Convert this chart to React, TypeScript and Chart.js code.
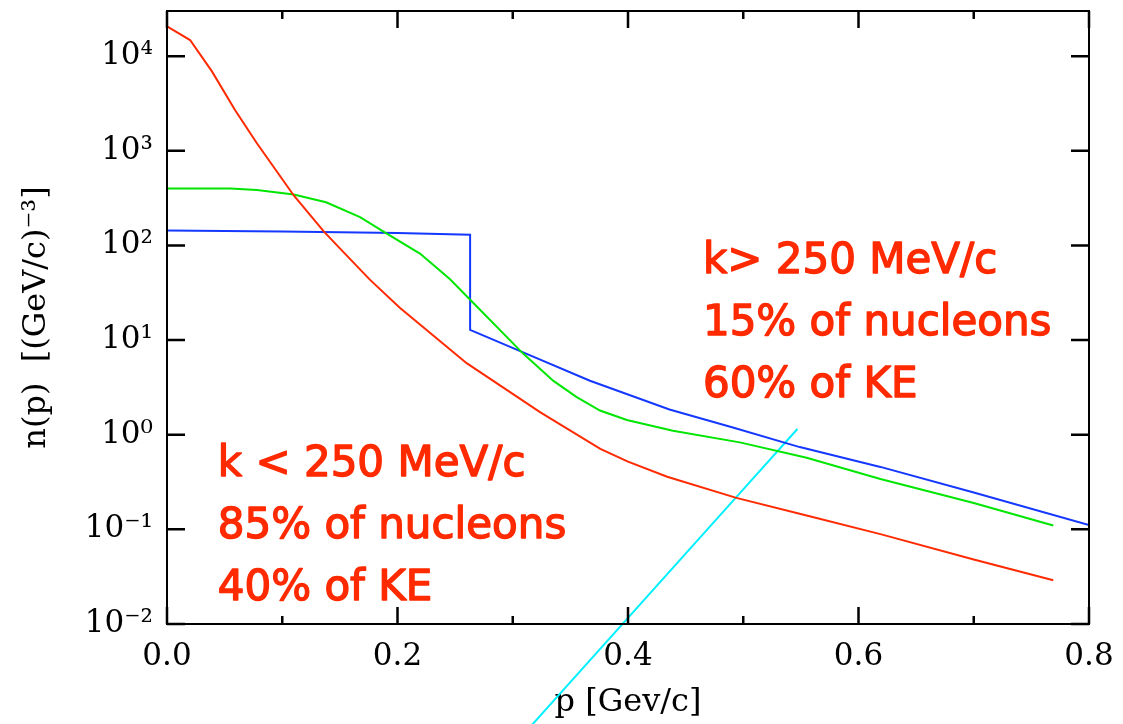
import React, { useEffect, useRef } from "react";
import { Chart, registerables } from "chart.js";

Chart.register(...registerables);

// Momentum distributions n(p) in (GeV/c)^-3 versus p in GeV/c
const RED_P = [0, 0.02, 0.039, 0.059, 0.078, 0.11, 0.136, 0.15, 0.176, 0.202, 0.26, 0.324, 0.376, 0.4, 0.434, 0.494, 0.555, 0.619, 0.7, 0.769];
const RED_N = [20700, 14800, 6900, 2700, 1200, 337, 141, 93, 43.5, 22, 5.7, 1.72, 0.71, 0.52, 0.36, 0.215, 0.14, 0.089, 0.048, 0.029];

const GREEN_P = [0, 0.055, 0.078, 0.11, 0.138, 0.1675, 0.19, 0.2195, 0.2456, 0.262, 0.309, 0.3353, 0.3555, 0.3757, 0.399, 0.439, 0.497, 0.555, 0.619, 0.7, 0.769];
const GREEN_N = [400, 400, 385, 346, 286, 199, 135, 82, 44, 27.5, 7.2, 3.7, 2.5, 1.8, 1.43, 1.1, 0.83, 0.57, 0.34, 0.19, 0.11];

// Step at the Fermi momentum: same p listed twice
const BLUE_P = [0, 0.1, 0.2, 0.263, 0.263, 0.309, 0.367, 0.436, 0.491, 0.549, 0.619, 0.7, 0.8];
const BLUE_N = [144, 140, 135, 130, 12.8, 7.4, 3.72, 1.85, 1.19, 0.74, 0.457, 0.245, 0.111];

const CYAN_P = [0.3, 0.4, 0.5, 0.547];
const CYAN_N = [0.00051, 0.0116, 0.265, 1.15];

const X_TICKS = [0, 0.1, 0.2, 0.3, 0.4, 0.5, 0.6, 0.7, 0.8];
const X_LABELED = [0, 0.2, 0.4, 0.6, 0.8];
const Y_TICKS = [0.01, 0.1, 1, 10, 100, 1000, 10000];

const NOTE_LOW = ["k < 250 MeV/c", "85% of nucleons", "40% of KE"];
const NOTE_HIGH = ["k> 250 MeV/c", "15% of nucleons", "60% of KE"];

const SUP: Record<string, string> = {
  "-": "\u207B", "0": "\u2070", "1": "\u00B9", "2": "\u00B2", "3": "\u00B3",
  "4": "\u2074", "5": "\u2075", "6": "\u2076", "7": "\u2077", "8": "\u2078", "9": "\u2079",
};
const powerLabel = (v: number) => {
  const e = String(Math.round(Math.log10(v)));
  return "10" + e.split("").map((c) => SUP[c] ?? c).join("");
};

const pts = (xs: number[], ys: number[]) => xs.map((x, i) => ({ x, y: ys[i] }));

const SERIF = '"DejaVu Serif", serif';
const NOTE_COLOR = "#ff2a00";

// Inward tick marks on all four sides plus the plot frame
const framePlugin = {
  id: "frameTicks",
  afterDraw(chart: any) {
    const { ctx, chartArea: a, scales } = chart;
    ctx.save();
    ctx.strokeStyle = "#000";
    ctx.lineWidth = 2;
    ctx.strokeRect(a.left, a.top, a.right - a.left, a.bottom - a.top);
    ctx.lineWidth = 2.5;
    ctx.beginPath();
    X_TICKS.forEach((v) => {
      const px = scales.x.getPixelForValue(v);
      const len = X_LABELED.includes(v) ? 17 : 8;
      ctx.moveTo(px, a.bottom);
      ctx.lineTo(px, a.bottom - len);
      ctx.moveTo(px, a.top);
      ctx.lineTo(px, a.top + len);
    });
    Y_TICKS.forEach((v) => {
      const py = scales.y.getPixelForValue(v);
      ctx.moveTo(a.left, py);
      ctx.lineTo(a.left + 18, py);
      ctx.moveTo(a.right, py);
      ctx.lineTo(a.right - 18, py);
    });
    ctx.stroke();
    ctx.restore();
  },
};

// Text blocks anchored in data coordinates (p, n)
const notesPlugin = {
  id: "notes",
  afterDraw(chart: any) {
    const { ctx, scales } = chart;
    const blocks = [
      { lines: NOTE_LOW, p: 0.044, n: 0.369 },
      { lines: NOTE_HIGH, p: 0.465, n: 51 },
    ];
    ctx.save();
    ctx.fillStyle = NOTE_COLOR;
    ctx.strokeStyle = NOTE_COLOR;
    ctx.lineWidth = 1.4;
    ctx.lineJoin = "round";
    ctx.font = '42px "DejaVu Sans", sans-serif';
    ctx.textAlign = "left";
    ctx.textBaseline = "alphabetic";
    blocks.forEach((b) => {
      const x = scales.x.getPixelForValue(b.p);
      const y = scales.y.getPixelForValue(b.n);
      b.lines.forEach((t, i) => {
        ctx.fillText(t, x, y + i * 62);
        ctx.strokeText(t, x, y + i * 62);
      });
    });
    ctx.restore();
  },
};

export default function App() {
  const ref = useRef<HTMLCanvasElement | null>(null);

  useEffect(() => {
    if (!ref.current) return;
    const line = (data: any, color: string, extra: any = {}) => ({
      data,
      borderColor: color,
      backgroundColor: color,
      borderWidth: 2,
      pointRadius: 0,
      tension: 0,
      fill: false,
      ...extra,
    });
    const chart = new Chart(ref.current, {
      type: "line",
      data: {
        datasets: [
          line(pts(RED_P, RED_N), "#ff2a00"),
          line(pts(GREEN_P, GREEN_N), "#00e600"),
          line(pts(BLUE_P, BLUE_N), "#1438ff"),
          line(pts(CYAN_P, CYAN_N), "#00f0ff", { clip: false }),
        ],
      },
      options: {
        animation: false,
        responsive: false,
        layout: { padding: { left: 0, top: 11, right: 34, bottom: 0 } },
        plugins: { legend: { display: false }, tooltip: { enabled: false } },
        scales: {
          x: {
            type: "linear",
            min: 0,
            max: 0.8,
            afterBuildTicks: (s: any) => {
              s.ticks = X_TICKS.map((v) => ({ value: v }));
            },
            afterFit: (s: any) => {
              s.height = 100;
              s.paddingLeft = 0;
              s.paddingRight = 0;
            },
            ticks: {
              autoSkip: false,
              maxRotation: 0,
              padding: 14,
              color: "#000",
              font: { family: SERIF, size: 31 },
              callback: (v: any) => (X_LABELED.includes(Number(v)) ? Number(v).toFixed(1) : ""),
            },
            grid: { display: false, drawTicks: false },
            border: { display: false },
            title: {
              display: true,
              text: "p [Gev/c]",
              color: "#000",
              font: { family: SERIF, size: 32 },
              padding: { top: 0, bottom: 2 },
            },
          },
          y: {
            type: "logarithmic",
            min: 0.01,
            max: 30000,
            afterBuildTicks: (s: any) => {
              s.ticks = Y_TICKS.map((v) => ({ value: v }));
            },
            afterFit: (s: any) => {
              s.width = 167;
              s.paddingTop = 0;
              s.paddingBottom = 0;
            },
            ticks: {
              autoSkip: false,
              padding: 14,
              color: "#000",
              font: { family: SERIF, size: 31 },
              callback: (v: any) => powerLabel(Number(v)),
            },
            grid: { display: false, drawTicks: false },
            border: { display: false },
            title: {
              display: true,
              text: "n(p)  [(GeV/c)\u207B\u00B3]",
              color: "#000",
              font: { family: SERIF, size: 32 },
              padding: { top: 17, bottom: 0 },
            },
          },
        },
      },
      plugins: [framePlugin, notesPlugin],
    });
    return () => chart.destroy();
  }, []);

  return (
    <div style={{ position: "fixed", left: 0, top: 0, width: 1123, height: 724, background: "#fff" }}>
      <canvas ref={ref} width={1123} height={724} style={{ display: "block" }} />
    </div>
  );
}
